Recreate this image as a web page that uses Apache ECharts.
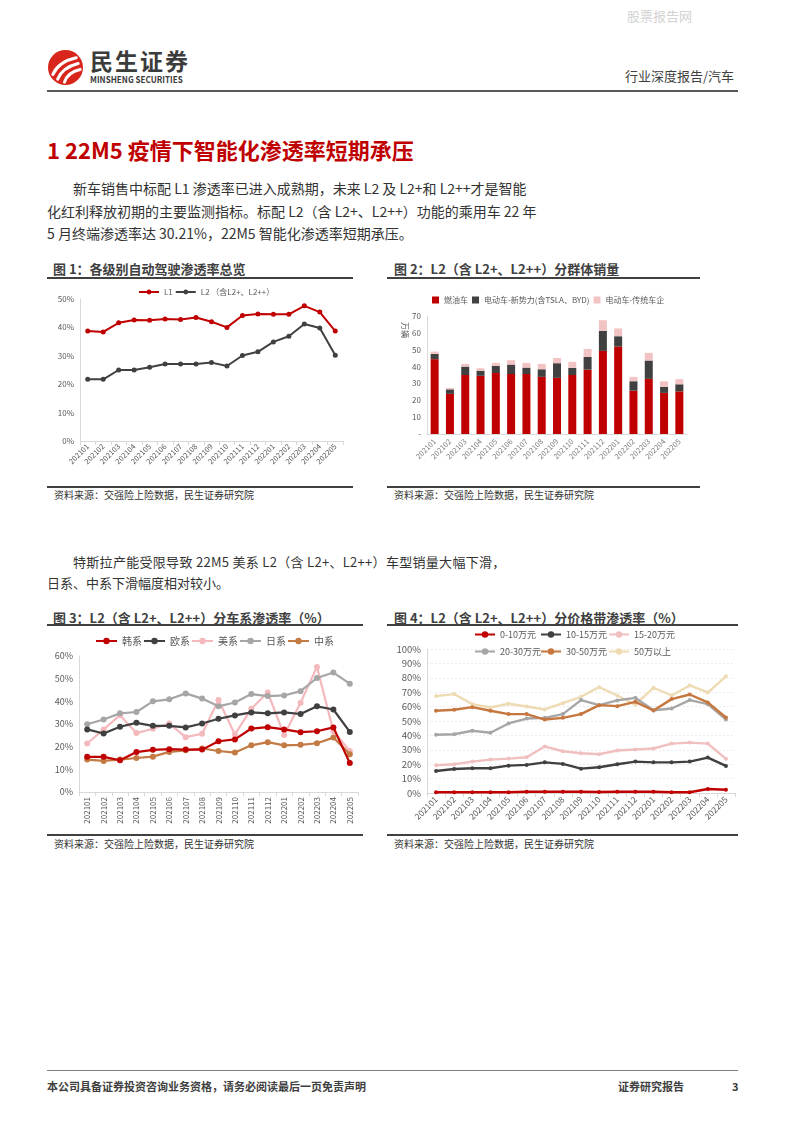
<!DOCTYPE html>
<html><head><meta charset="utf-8">
<script src="https://cdn.jsdelivr.net/npm/echarts/dist/echarts.min.js"></script>
<style>
html,body{margin:0;padding:0;background:#fff;}
#page{position:relative;width:794px;height:1123px;overflow:hidden;font-family:"Noto Sans CJK SC","Noto Sans",sans-serif;color:#333;}
.t{position:absolute;white-space:nowrap;}
.j{position:absolute;white-space:nowrap;text-align:justify;text-align-last:justify;}
.hl{position:absolute;}
.c{position:absolute;}
.ft{font-size:13px;font-weight:bold;color:#404040;line-height:16px;}
.src{font-size:10px;color:#333;line-height:12px;}
</style></head><body><div id="page">

<div class="t" style="left:627px;top:8px;font-size:13px;color:#d2d2d2;line-height:16px;">股票报告网</div>

<svg style="position:absolute;left:48px;top:50px" width="35" height="35" viewBox="0 0 36 36">
<circle cx="18" cy="18" r="18" fill="#d9261c"/>
<path d="M5 25 Q11 12 29 8" stroke="#fff" stroke-width="3.2" fill="none" stroke-linecap="round"/>
<path d="M10 30 Q15 18 31 14" stroke="#fff" stroke-width="3.2" fill="none" stroke-linecap="round"/>
<path d="M17 33 Q20 23 33 20" stroke="#fff" stroke-width="3.2" fill="none" stroke-linecap="round"/>
</svg>
<div class="t" style="left:90px;top:47px;font-size:23px;font-weight:bold;color:#3c3c3c;line-height:27px;letter-spacing:2px;">民生证券</div>
<div class="t" style="left:90px;top:74px;font-size:9px;font-weight:bold;color:#3c3c3c;line-height:11px;transform:scaleX(0.9);transform-origin:left center;">MINSHENG SECURITIES</div>
<div class="t" style="left:625px;top:67px;font-size:13px;color:#404040;line-height:18px;">行业深度报告/汽车</div>
<div class="hl" style="left:47px;top:90px;width:691px;height:1.5px;background:#595959;"></div>

<div class="t" style="left:47px;top:135px;font-size:22px;font-weight:bold;color:#c00000;line-height:29px;">1 22M5 疫情下智能化渗透率短期承压</div>

<div class="j" style="left:73px;top:177px;width:447px;font-size:14px;line-height:22px;color:#333;">新车销售中标配 L1 渗透率已进入成熟期，未来 L2 及 L2+和 L2++才是智能</div>
<div class="j" style="left:47px;top:200px;width:473px;font-size:14px;line-height:22px;color:#333;">化红利释放初期的主要监测指标。标配 L2（含 L2+、L2++）功能的乘用车 22 年</div>
<div class="t" style="left:47px;top:222px;font-size:14px;line-height:22px;color:#333;">5 月终端渗透率达 30.21%，22M5 智能化渗透率短期承压。</div>

<div class="t ft" style="left:53px;top:261px;">图 1：各级别自动驾驶渗透率总览</div>
<div class="hl" style="left:47px;top:277px;width:306px;height:2px;background:#404040;"></div>
<div class="t ft" style="left:394px;top:261px;">图 2：L2（含 L2+、L2++）分群体销量</div>
<div class="hl" style="left:387px;top:277px;width:313px;height:2px;background:#404040;"></div>

<div id="c1" class="c" style="left:45px;top:280px;width:315px;height:205px;"></div>
<div id="c2" class="c" style="left:385px;top:280px;width:320px;height:205px;"></div>

<div class="hl" style="left:47px;top:486px;width:306px;height:1.5px;background:#404040;"></div>
<div class="hl" style="left:387px;top:486px;width:313px;height:1.5px;background:#404040;"></div>
<div class="t src" style="left:54px;top:489px;">资料来源：交强险上险数据，民生证券研究院</div>
<div class="t src" style="left:394px;top:489px;">资料来源：交强险上险数据，民生证券研究院</div>

<div class="t" style="left:73px;top:553px;font-size:13px;line-height:18px;color:#333;letter-spacing:0.3px;">特斯拉产能受限导致 22M5 美系 L2（含 L2+、L2++）车型销量大幅下滑，</div>
<div class="t" style="left:47px;top:574px;font-size:13px;line-height:18px;color:#333;">日系、中系下滑幅度相对较小。</div>

<div class="t ft" style="left:53px;top:610px;">图 3：L2（含 L2+、L2++）分车系渗透率（%）</div>
<div class="hl" style="left:47px;top:624px;width:316px;height:2px;background:#404040;"></div>
<div class="t ft" style="left:394px;top:610px;">图 4：L2（含 L2+、L2++）分价格带渗透率（%）</div>
<div class="hl" style="left:387px;top:624px;width:351px;height:2px;background:#404040;"></div>

<div id="c3" class="c" style="left:45px;top:628px;width:320px;height:206px;"></div>
<div id="c4" class="c" style="left:385px;top:628px;width:360px;height:206px;"></div>

<div class="hl" style="left:47px;top:834px;width:316px;height:1.5px;background:#404040;"></div>
<div class="hl" style="left:387px;top:834px;width:351px;height:1.5px;background:#404040;"></div>
<div class="t src" style="left:54px;top:838px;">资料来源：交强险上险数据，民生证券研究院</div>
<div class="t src" style="left:394px;top:838px;">资料来源：交强险上险数据，民生证券研究院</div>

<div class="hl" style="left:47px;top:1070px;width:691px;height:1px;background:#7f7f7f;"></div>
<div class="t" style="left:47px;top:1079px;font-size:11px;font-weight:bold;color:#404040;line-height:14px;">本公司具备证券投资咨询业务资格，请务必阅读最后一页免责声明</div>
<div class="t" style="left:618px;top:1079px;font-size:11px;font-weight:bold;color:#404040;line-height:14px;">证券研究报告</div>
<div class="t" style="left:732px;top:1079px;font-size:11px;font-weight:bold;color:#404040;line-height:14px;">3</div>
</div>

<script>
// ---------- data ----------
const months = ['202101','202102','202103','202104','202105','202106','202107','202108','202109','202110','202111','202112','202201','202202','202203','202204','202205'];

// Fig 1 (%)
const l1Rate = [38.7, 38.4, 41.6, 42.6, 42.5, 43.0, 42.8, 43.5, 42.0, 40.0, 44.2, 44.7, 44.6, 44.6, 47.6, 45.4, 38.7];
const l2Rate = [21.7, 21.7, 25.0, 25.0, 26.0, 27.1, 27.1, 27.1, 27.6, 26.4, 30.1, 31.4, 34.9, 36.9, 41.2, 39.8, 30.2];

// Fig 2 (万辆)
const fuelCar = [44.4, 23.8, 35.0, 34.5, 36.2, 35.6, 35.6, 33.9, 33.3, 35.0, 38.2, 49.3, 51.9, 25.7, 32.7, 24.4, 25.3];
const evNewForces = [3.1, 2.7, 5.0, 2.9, 4.2, 5.6, 3.8, 4.5, 8.7, 4.2, 7.5, 11.9, 6.1, 5.6, 10.9, 3.6, 4.2];
const evTraditional = [1.4, 0.8, 1.6, 1.6, 1.8, 2.6, 2.8, 3.2, 3.1, 3.6, 4.8, 6.3, 4.6, 2.6, 4.5, 3.3, 3.0];

// Fig 3 (%)
const korean = [15.5, 15.5, 14.0, 17.6, 18.6, 18.9, 18.7, 18.7, 22.4, 23.2, 28.0, 28.6, 27.6, 26.4, 26.8, 28.5, 12.8];
const european = [27.6, 25.8, 28.8, 30.5, 29.2, 29.2, 28.5, 30.2, 32.3, 33.8, 35.1, 34.7, 35.1, 34.4, 37.8, 36.4, 26.5];
const american = [21.4, 27.6, 33.9, 26.0, 27.9, 30.2, 24.2, 25.7, 40.6, 25.4, 36.7, 43.9, 25.1, 39.4, 55.2, 26.8, 18.1];
const japanese = [29.9, 32.0, 34.7, 35.3, 40.0, 40.9, 43.5, 41.2, 37.8, 39.5, 43.2, 42.3, 42.6, 44.5, 50.3, 52.7, 47.8];
const chinese = [14.3, 13.7, 14.3, 15.0, 15.6, 17.7, 18.4, 19.2, 18.1, 17.4, 20.6, 22.0, 20.6, 20.8, 21.5, 24.0, 16.7];

// Fig 4 (%)
const p0_10 = [0.5, 0.5, 0.5, 0.5, 0.5, 0.9, 0.9, 0.9, 0.9, 0.7, 0.9, 0.9, 0.9, 0.5, 0.5, 2.8, 2.3];
const p10_15 = [15.3, 16.7, 17.2, 17.2, 19.0, 19.5, 21.3, 20.2, 16.9, 17.9, 20.0, 21.8, 21.3, 21.3, 21.8, 24.6, 18.8];
const p15_20 = [19.3, 20.0, 21.8, 23.2, 23.9, 24.8, 32.3, 29.0, 27.6, 26.9, 29.5, 30.2, 30.9, 34.3, 35.0, 34.3, 23.7];
const p20_30 = [40.4, 40.8, 43.2, 41.8, 48.3, 51.7, 52.2, 54.8, 64.5, 61.0, 64.3, 66.1, 57.5, 58.7, 64.5, 61.7, 51.0];
const p30_50 = [57.1, 57.8, 59.6, 57.1, 54.8, 54.8, 51.0, 52.2, 54.8, 61.0, 60.3, 63.3, 57.3, 65.2, 68.4, 62.9, 52.4];
const p50up = [67.3, 68.7, 61.7, 59.4, 62.0, 60.1, 58.0, 62.4, 66.8, 73.5, 67.7, 61.3, 73.1, 67.7, 74.7, 69.8, 81.0];

// ---------- helpers ----------
const F = '"Noto Sans CJK SC","Noto Sans",sans-serif';
const AX = '#d9d9d9';
const LBL = '#595959';
function lineS(name, data, color, lw, ss, z) {
  return {name, type:'line', data, symbol:'circle', symbolSize:ss, z: z || 2,
    itemStyle:{color}, lineStyle:{color, width:lw}, emphasis:{disabled:true}, animation:false};
}
function catAxis(rotate, fs, margin, tick, color) {
  return {type:'category', data:months, boundaryGap:true,
    axisLine:{show:true, lineStyle:{color:AX, width:1}},
    axisTick:{show:tick, length:4, lineStyle:{color:AX}},
    axisLabel:{rotate, interval:0, fontSize:fs, color:color||LBL, margin, fontFamily:F}};
}
function valAxis(max, interval, fmt, fs, split) {
  return {type:'value', min:0, max, interval,
    axisLine:{show:true, lineStyle:{color:AX}}, axisTick:{show:false},
    splitLine:{show:!!split, lineStyle:{color:'#ececec', type:[2,2]}},
    axisLabel:{formatter:fmt, fontSize:fs, color:LBL, margin:6, fontFamily:F}};
}
function mk(id, opt) {
  const ch = echarts.init(document.getElementById(id), null, {renderer:'canvas'});
  opt.animation = false;
  opt.textStyle = {fontFamily:F};
  ch.setOption(opt);
}

// ---------- chart 1 ----------
mk('c1', {
  grid:{left:35, right:17, top:19, bottom:44, outerBoundsMode:'none', containLabel:false},
  legend:{top:8, left:93, padding:0, itemWidth:20, itemHeight:6, itemGap:2,
    textStyle:{fontSize:8, color:LBL}, data:['L1','L2 （含L2+、L2++）']},
  xAxis: catAxis(45, 7.5, 4, true),
  yAxis: valAxis(50, 10, '{value}%', 8, false),
  series:[
    lineS('L1', l1Rate, '#c00000', 2, 5),
    lineS('L2 （含L2+、L2++）', l2Rate, '#404040', 2, 5)
  ]
});

// ---------- chart 2 ----------
mk('c2', {
  grid:{left:42, right:18, top:36, bottom:51, outerBoundsMode:'none', containLabel:false},
  legend:{top:16, left:47, padding:0, itemWidth:7, itemHeight:7, itemGap:4, icon:'rect',
    textStyle:{fontSize:8, color:LBL}},
  xAxis: catAxis(45, 7.5, 6, false, '#7f7f7f'),
  yAxis: valAxis(70, 10, v => v === 0 ? '-' : String(v), 8, false),
  graphic:[{type:'text', x:24, y:42, rotation:-Math.PI/2,
    style:{text:'万辆', fontSize:8, fill:LBL, fontFamily:F}}],
  series:[
    {name:'燃油车', type:'bar', stack:'s', data:fuelCar, barWidth:8, itemStyle:{color:'#c00000'}, emphasis:{disabled:true}},
    {name:'电动车-新势力(含TSLA、BYD)', type:'bar', stack:'s', data:evNewForces, barWidth:8, itemStyle:{color:'#404040'}, emphasis:{disabled:true}},
    {name:'电动车-传统车企', type:'bar', stack:'s', data:evTraditional, barWidth:8, itemStyle:{color:'#f2c3c3'}, emphasis:{disabled:true}}
  ]
});

// ---------- chart 3 ----------
mk('c3', {
  grid:{left:34, right:7, top:28, bottom:42, outerBoundsMode:'none', containLabel:false},
  legend:{top:8, left:50, padding:0, itemWidth:21, itemHeight:8, itemGap:1,
    textStyle:{fontSize:10, color:LBL}},
  xAxis: catAxis(90, 8, 5, true),
  yAxis: valAxis(60, 10, '{value}%', 9, false),
  series:[
    lineS('韩系', korean, '#c00000', 2.2, 6, 6),
    lineS('欧系', european, '#404040', 2.2, 6, 5),
    lineS('美系', american, '#f4b9bd', 2.2, 6, 2),
    lineS('日系', japanese, '#a6a6a6', 2.2, 6, 3),
    lineS('中系', chinese, '#c47a44', 2.2, 6, 4)
  ]
});

// ---------- chart 4 ----------
const legNames4 = ['0-10万元','10-15万元','15-20万元','20-30万元','30-50万元','50万以上'];
const legPos4 = [[89,2],[155,2],[223,2],[89,19],[155,19],[223,19]];
mk('c4', {
  grid:{left:42, right:10, top:21, bottom:41, outerBoundsMode:'none', containLabel:false},
  legend: legNames4.map((n, i) => ({data:[n], left:legPos4[i][0], top:legPos4[i][1], padding:0,
    itemWidth:20, itemHeight:8, textStyle:{fontSize:9, color:LBL}})),
  xAxis: catAxis(45, 8.5, 5, true),
  yAxis: valAxis(100, 10, '{value}%', 9.5, true),
  series:[
    lineS('0-10万元', p0_10, '#c00000', 2.6, 4, 7),
    lineS('10-15万元', p10_15, '#404040', 2.4, 4, 6),
    lineS('15-20万元', p15_20, '#f0bfbf', 2.4, 4, 5),
    lineS('20-30万元', p20_30, '#a6a6a6', 2.4, 4, 3),
    lineS('30-50万元', p30_50, '#c5773f', 2.4, 4, 4),
    lineS('50万以上', p50up, '#eedbb4', 2.4, 4, 2)
  ]
});
</script>
</body></html>
